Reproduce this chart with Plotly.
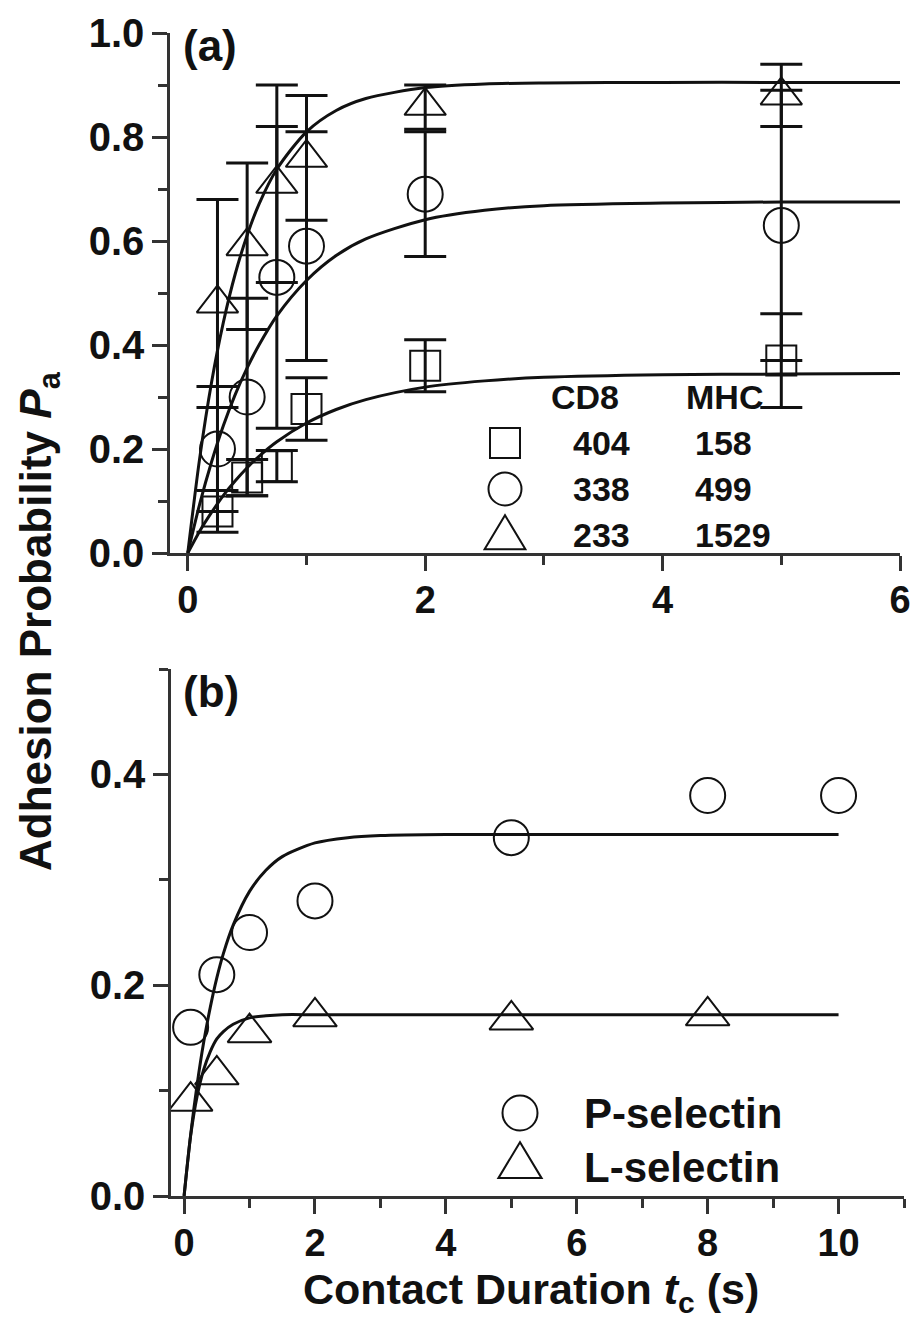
import plotly.graph_objects as go

# ---------------- Panel (a) data: CD8 / MHC ----------------
t_a = [0.25, 0.5, 0.75, 1.0, 2.0, 5.0]

sq_y = [0.08, 0.145, 0.167, 0.277, 0.36, 0.37]
sq_err = [0.04, 0.035, 0.03, 0.06, 0.05, 0.09]

ci_y = [0.20, 0.30, 0.53, 0.59, 0.69, 0.63]
ci_err = [0.12, 0.19, 0.29, 0.22, 0.12, 0.26]

tr_y = [0.48, 0.59, 0.71, 0.76, 0.86, 0.88]
tr_err_plus = [0.20, 0.16, 0.19, 0.12, 0.04, 0.06]
tr_err_minus = [0.20, 0.16, 0.19, 0.12, 0.045, 0.06]

# fitted curves
fit_t_a = [0, 0.1, 0.2, 0.3, 0.4, 0.5, 0.6, 0.75, 1.0, 1.25, 1.5, 2.0, 2.5, 3.0, 4.0, 5.0, 6.0]
fit_sq = [0, 0.042, 0.078, 0.111, 0.139, 0.164, 0.186, 0.214, 0.250, 0.276, 0.295, 0.319, 0.331, 0.338, 0.343, 0.344, 0.345]
fit_ci = [0, 0.094, 0.175, 0.245, 0.305, 0.356, 0.400, 0.456, 0.524, 0.572, 0.604, 0.641, 0.659, 0.668, 0.673, 0.675, 0.675]
fit_tr = [0, 0.182, 0.328, 0.444, 0.537, 0.611, 0.671, 0.738, 0.810, 0.851, 0.874, 0.895, 0.902, 0.904, 0.905, 0.905, 0.905]

legend_cd8 = ["404", "338", "233"]
legend_mhc = ["158", "499", "1529"]

# ---------------- Panel (b) data: selectins ----------------
t_p = [0.1, 0.5, 1.0, 2.0, 5.0, 8.0, 10.0]
p_sel = [0.16, 0.21, 0.25, 0.28, 0.34, 0.38, 0.38]
t_l = [0.1, 0.5, 1.0, 2.0, 5.0, 8.0]
l_sel = [0.09, 0.115, 0.155, 0.17, 0.167, 0.171]

fit_t_b = [0, 0.1, 0.2, 0.3, 0.4, 0.5, 0.6, 0.75, 1.0, 1.25, 1.5, 2.0, 2.5, 3.0, 4.0, 5.0, 7.0, 10.0]
fit_p = [0, 0.058, 0.106, 0.146, 0.179, 0.207, 0.230, 0.257, 0.289, 0.309, 0.322, 0.335, 0.340, 0.342, 0.343, 0.343, 0.343, 0.343]
fit_l = [0, 0.057, 0.095, 0.120, 0.137, 0.149, 0.156, 0.163, 0.169, 0.171, 0.172, 0.172, 0.172, 0.172, 0.172, 0.172, 0.172, 0.172]

W, H = 913, 1330
FONT = "Liberation Sans, Arial, sans-serif"
INK = "#111111"
AX = "#333333"


def px_x(p):
    return p / W


def px_y(p):
    return 1 - p / H


fig = go.Figure()

mk_line = dict(color=INK, width=2)
err_style = dict(type="data", color=INK, thickness=3, width=21, visible=True)

# panel (a) fits
for ys in (fit_sq, fit_ci, fit_tr):
    fig.add_trace(go.Scatter(x=fit_t_a, y=ys, mode="lines", line=dict(color=INK, width=3, shape="spline", smoothing=0.8),
                             showlegend=False, xaxis="x", yaxis="y", hoverinfo="skip"))

# panel (a) points
fig.add_trace(go.Scatter(x=t_a, y=sq_y, mode="markers",
                         marker=dict(symbol="square-open", size=30, color=INK, line=mk_line),
                         error_y=dict(array=sq_err, **err_style), showlegend=False, xaxis="x", yaxis="y"))
fig.add_trace(go.Scatter(x=t_a, y=ci_y, mode="markers",
                         marker=dict(symbol="circle-open", size=35, color=INK, line=mk_line),
                         error_y=dict(array=ci_err, **err_style), showlegend=False, xaxis="x", yaxis="y"))
fig.add_trace(go.Scatter(x=t_a, y=tr_y, mode="markers",
                         marker=dict(symbol="triangle-up-open", size=36, color=INK, line=mk_line),
                         error_y=dict(array=tr_err_plus, arrayminus=tr_err_minus, symmetric=False, **err_style),
                         showlegend=False, xaxis="x", yaxis="y"))

# panel (b) fits
for ys in (fit_p, fit_l):
    fig.add_trace(go.Scatter(x=fit_t_b, y=ys, mode="lines", line=dict(color=INK, width=3, shape="spline", smoothing=0.8),
                             showlegend=False, xaxis="x2", yaxis="y2", hoverinfo="skip"))

fig.add_trace(go.Scatter(x=t_p, y=p_sel, mode="markers",
                         marker=dict(symbol="circle-open", size=35, color=INK, line=mk_line),
                         showlegend=False, xaxis="x2", yaxis="y2"))
fig.add_trace(go.Scatter(x=t_l, y=l_sel, mode="markers",
                         marker=dict(symbol="triangle-up-open", size=38, color=INK, line=mk_line),
                         showlegend=False, xaxis="x2", yaxis="y2"))

ytickfont = dict(family=FONT, size=40, color=INK, weight="bold")
xtickfont = dict(family=FONT, size=38, color=INK, weight="bold")
common_axis = dict(showline=True, linecolor=AX, linewidth=2.5, ticks="outside", ticklen=15, tickwidth=2.5,
                   tickcolor=AX, showgrid=False, zeroline=False, automargin=False, mirror=False)
minor = dict(ticklen=9, tickwidth=2.5, tickcolor=AX, ticks="outside")

fig.update_layout(
    width=W, height=H, margin=dict(l=0, r=0, t=0, b=0),
    paper_bgcolor="white", plot_bgcolor="white", showlegend=False,
    xaxis=dict(domain=[px_x(170), px_x(900)], range=[-0.15, 6.0], anchor="y",
               tick0=0, dtick=2, minor=dict(dtick=1, **minor), tickfont=xtickfont, ticklabelstandoff=-3,
               **common_axis),
    yaxis=dict(domain=[px_y(553), px_y(33)], range=[0, 1.0], anchor="x",
               tick0=0, dtick=0.2, tickformat=".1f", minor=dict(dtick=0.1, **minor), tickfont=ytickfont,
               **common_axis),
    xaxis2=dict(domain=[px_x(171), px_x(904)], range=[-0.2, 11.0], anchor="y2",
                tick0=0, dtick=2, minor=dict(dtick=1, **minor), tickfont=xtickfont, ticklabelstandoff=-3,
                **common_axis),
    yaxis2=dict(domain=[px_y(1196), px_y(669)], range=[0, 0.5], anchor="x2",
                tick0=0, dtick=0.2, tickformat=".1f", minor=dict(dtick=0.1, **minor), tickfont=ytickfont,
                **common_axis),
)

ann = []
# axis titles
ann.append(dict(text="Adhesion Probability <i>P</i><sub>a</sub>", x=px_x(39), y=px_y(621), xref="paper", yref="paper",
                textangle=-90, showarrow=False, font=dict(family=FONT, size=44, color=INK, weight="bold"),
                xanchor="center", yanchor="middle"))
ann.append(dict(text="Contact Duration <i>t</i><sub>c</sub> (s)", x=px_x(531), y=px_y(1292), xref="paper", yref="paper",
                showarrow=False, font=dict(family=FONT, size=43, color=INK, weight="bold"),
                xanchor="center", yanchor="middle"))
# panel labels
for lab, yy in (("(a)", 46), ("(b)", 691)):
    ann.append(dict(text=lab, x=px_x(181), y=px_y(yy), xref="paper", yref="paper", showarrow=False,
                    xanchor="left", yanchor="middle", font=dict(family=FONT, size=44, color=INK, weight="bold")))

# panel (a) legend table
lfont = dict(family=FONT, size=34, color=INK, weight="bold")
ann.append(dict(text="CD8", x=px_x(549), y=px_y(397), xref="paper", yref="paper", showarrow=False,
                xanchor="left", yanchor="middle", font=lfont))
ann.append(dict(text="MHC", x=px_x(684), y=px_y(397), xref="paper", yref="paper", showarrow=False,
                xanchor="left", yanchor="middle", font=lfont))
rows_y = [443, 489, 535]
for c, m, ry in zip(legend_cd8, legend_mhc, rows_y):
    ann.append(dict(text=c, x=px_x(571), y=px_y(ry), xref="paper", yref="paper", showarrow=False,
                    xanchor="left", yanchor="middle", font=lfont))
    ann.append(dict(text=m, x=px_x(693), y=px_y(ry), xref="paper", yref="paper", showarrow=False,
                    xanchor="left", yanchor="middle", font=lfont))

# panel (b) legend
bfont = dict(family=FONT, size=42, color=INK, weight="bold")
for txt, ry in (("P-selectin", 1113), ("L-selectin", 1167)):
    ann.append(dict(text=txt, x=px_x(582), y=px_y(ry), xref="paper", yref="paper", showarrow=False,
                    xanchor="left", yanchor="middle", font=bfont))

fig.update_layout(annotations=ann)

# legend symbols as pixel-sized shapes
shapes = []
sym_line = dict(color=INK, width=2)


def sym(kind, cx, cy, s):
    base = dict(xref="paper", yref="paper", xsizemode="pixel", ysizemode="pixel",
                xanchor=px_x(cx), yanchor=px_y(cy), line=sym_line, fillcolor="rgba(0,0,0,0)")
    h = s / 2
    if kind == "square":
        base.update(type="rect", x0=-h, x1=h, y0=-h, y1=h)
    elif kind == "circle":
        base.update(type="circle", x0=-h, x1=h, y0=-h, y1=h)
    else:
        w = s * 0.6
        base.update(type="path", path=f"M {-w} {-s*0.42} L {w} {-s*0.42} L 0 {s*0.58} Z")
    return base


for kind, ry in zip(("square", "circle", "tri"), rows_y):
    shapes.append(sym(kind, 505, ry, 30 if kind == "square" else (33 if kind == "circle" else 34)))
shapes.append(sym("circle", 520, 1113, 35))
shapes.append(sym("tri", 520, 1163, 36))
fig.update_layout(shapes=shapes)

fig.write_html("out.html", config={"displayModeBar": False},
               post_script="document.body.style.margin='0';document.body.style.overflow='hidden';")
